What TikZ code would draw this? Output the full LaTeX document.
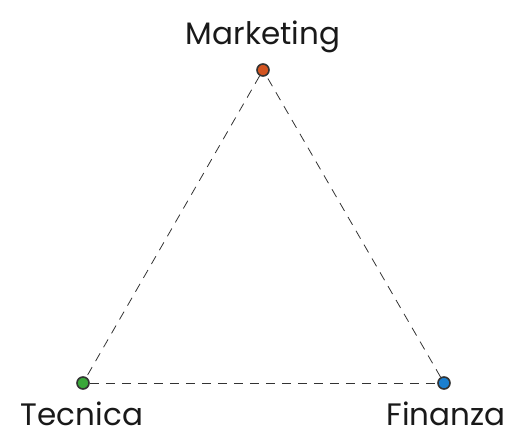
\documentclass[tikz,border=0pt]{standalone}
\usepackage{fontspec}
\setmainfont{Poppins}
\usepackage{tikz}

\definecolor{mktcol}{HTML}{D35420}
\definecolor{teccol}{HTML}{3AA83A}
\definecolor{fincol}{HTML}{1A7FD0}

\tikzset{
    area/.style={circle, draw=black!80, line width=1.6pt, inner sep=0pt, minimum size=12pt},
    arealabel/.style={font=\fontsize{31}{36}\selectfont, text=black!90, inner sep=0pt, text depth=0pt},
    link/.style={dash pattern=on 9pt off 7pt, draw=black!80, line width=0.8pt}
}

\begin{document}
\begin{tikzpicture}[x=1pt, y=-1pt]
\useasboundingbox (0,0) rectangle (517,436);
\node[area, fill=mktcol] (mkt) at (263,70) {};
\node[area, fill=teccol] (tec) at (83,383) {};
\node[area, fill=fincol] (fin) at (444,383) {};

\node[arealabel, anchor=base] (mktlbl) at (263,45) {Marketing};
\node[arealabel, anchor=base] (teclbl) at (82,425) {Tecnica};
\node[arealabel, anchor=base] (finlbl) at (446,425) {Finanza};

\draw[link] (mkt) -- (tec);
\draw[link] (tec) -- (fin);
\draw[link] (fin) -- (mkt);
\end{tikzpicture}
\end{document}
